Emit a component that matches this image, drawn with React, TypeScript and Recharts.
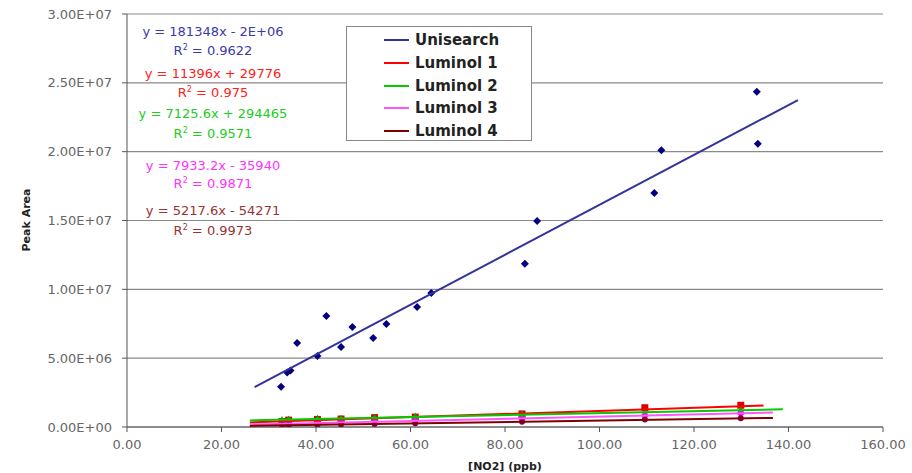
import React from "react";
import { ScatterChart, Scatter, XAxis, YAxis, CartesianGrid } from "recharts";

// Unisearch standard (peak area vs NO2 ppb)
const uniX = [32.6, 33.9, 34.6, 36.0, 40.3, 42.2, 45.3, 47.7, 52.1, 54.9, 61.4, 64.4, 84.2, 86.8, 111.6, 113.1, 133.3, 133.5];
const uniY = [2.93e6, 3.95e6, 4.1e6, 6.1e6, 5.16e6, 8.07e6, 5.81e6, 7.27e6, 6.47e6, 7.49e6, 8.72e6, 9.74e6, 11.85e6, 14.97e6, 17.0e6, 20.1e6, 24.35e6, 20.57e6];

// Luminol runs share the same concentrations
const lumX = [32.8, 34.2, 40.3, 45.3, 52.4, 61.0, 83.6, 109.6, 129.9];
const lum1Y = [0.4e6, 0.5e6, 0.55e6, 0.58e6, 0.68e6, 0.72e6, 0.95e6, 1.4e6, 1.58e6];
const lum2Y = [0.5e6, 0.55e6, 0.6e6, 0.6e6, 0.66e6, 0.76e6, 0.9e6, 1.02e6, 1.2e6];
const lum3Y = [0.22e6, 0.24e6, 0.27e6, 0.32e6, 0.38e6, 0.45e6, 0.6e6, 0.82e6, 0.98e6];
const lum4Y = [0.12e6, 0.12e6, 0.16e6, 0.18e6, 0.22e6, 0.27e6, 0.38e6, 0.54e6, 0.64e6];

const seriesNames = ["Unisearch", "Luminol 1", "Luminol 2", "Luminol 3", "Luminol 4"];
const lineColors = ["#333399", "#ff0000", "#00cc00", "#ff55ff", "#800000"];
const markerColors = ["#000080", "#dd0000", "#00aa00", "#ff00ff", "#800040"];

// linear trendlines as printed on the chart
const trendSlopes = [181348, 11396, 7125.6, 7933.2, 5217.6];
const trendIntercepts = [-2e6, 29776, 294465, -35940, -54271];
const trendFrom = [27, 26, 26, 26, 26];
const trendTo = [142, 134.7, 138.8, 136.7, 136.7];
const equationTexts = [
  "y = 181348x - 2E+06",
  "y = 11396x + 29776",
  "y = 7125.6x + 294465",
  "y = 7933.2x - 35940",
  "y = 5217.6x - 54271",
];
const r2Texts = ["0.9622", "0.975", "0.9571", "0.9871", "0.9973"];
const equationColors = ["#3a3aa8", "#ff2020", "#22cc22", "#ff33ff", "#993333"];

const xTicks = [0, 20, 40, 60, 80, 100, 120, 140, 160];
const yTicks = [0, 5e6, 10e6, 15e6, 20e6, 25e6, 30e6];

const FONT = "'DejaVu Sans', Verdana, sans-serif";

const sci = (v: number) => {
  if (v === 0) return "0.00E+00";
  const [m, e] = v.toExponential(2).split("e");
  const n = parseInt(e, 10);
  return `${m}E${n < 0 ? "-" : "+"}${String(Math.abs(n)).padStart(2, "0")}`;
};

const toPoints = (xs: number[], ys: number[]) => xs.map((x, i) => ({ x, y: ys[i] }));

const trendData = (i: number) => [
  { x: trendFrom[i], y: trendSlopes[i] * trendFrom[i] + trendIntercepts[i] },
  { x: trendTo[i], y: trendSlopes[i] * trendTo[i] + trendIntercepts[i] },
];

const Diamond = (props: any) => {
  const { cx, cy, fill } = props;
  const r = 4;
  return <polygon points={`${cx},${cy - r} ${cx + r},${cy} ${cx},${cy + r} ${cx - r},${cy}`} fill={fill} />;
};
const Square = (props: any) => {
  const { cx, cy, fill } = props;
  return <rect x={cx - 3.5} y={cy - 3.5} width={7} height={7} fill={fill} />;
};
const Triangle = (props: any) => {
  const { cx, cy, fill } = props;
  return <polygon points={`${cx},${cy - 4} ${cx + 4},${cy + 3} ${cx - 4},${cy + 3}`} fill={fill} />;
};
const Dot = (props: any) => {
  const { cx, cy, fill } = props;
  return <circle cx={cx} cy={cy} r={3} fill={fill} />;
};
const NoShape = () => <g />;

const lumSeries = [lum1Y, lum2Y, lum3Y, lum4Y];
const lumShapes = [Square, Triangle, Diamond, Dot];

function Equations() {
  const rows = [
    [31, 50],
    [73, 92],
    [113, 133],
    [165, 183],
    [210, 230],
  ];
  return (
    <svg width={912} height={473} style={{ position: "absolute", left: 0, top: 0, pointerEvents: "none" }}>
      {equationTexts.map((t, i) => (
        <g key={t} fill={equationColors[i]} fontFamily={FONT} fontSize={13} textAnchor="middle">
          <text x={213} y={rows[i][0] + 4.5}>{t}</text>
          <text x={213} y={rows[i][1] + 4.5}>
            R<tspan fontSize={8} dy={-5}>2</tspan>
            <tspan dy={5}> = {r2Texts[i]}</tspan>
          </text>
        </g>
      ))}
      <text
        x={26}
        y={220}
        transform="rotate(-90 26 220)"
        textAnchor="middle"
        dominantBaseline="central"
        fontFamily={FONT}
        fontSize={11}
        fontWeight="bold"
        fill="#222"
      >
        Peak Area
      </text>
      <text x={505} y={470} textAnchor="middle" fontFamily={FONT} fontSize={11} fontWeight="bold" fill="#222">
        [NO2] (ppb)
      </text>
    </svg>
  );
}

function LegendBox() {
  return (
    <div
      style={{
        position: "absolute",
        left: 346,
        top: 26,
        width: 186,
        height: 115,
        background: "#fff",
        border: "1px solid #888",
        boxSizing: "border-box",
        fontFamily: FONT,
        fontSize: 15,
        fontWeight: "bold",
        color: "#222",
        paddingTop: 2,
      }}
    >
      {seriesNames.map((n, i) => (
        <div key={n} style={{ display: "flex", alignItems: "center", height: 22.7 }}>
          <span style={{ display: "inline-block", width: 25, height: 2, background: lineColors[i], marginLeft: 37, marginRight: 6 }} />
          <span>{n}</span>
        </div>
      ))}
    </div>
  );
}

export default function App() {
  return (
    <div style={{ position: "absolute", left: 0, top: 0, width: 912, height: 473, background: "#fff" }}>
      <ScatterChart width={912} height={473} margin={{ top: 14, right: 29, bottom: 0, left: 0 }}>
        <CartesianGrid vertical={false} stroke="#8a8a8a" strokeWidth={1.2} />
        <XAxis
          type="number"
          dataKey="x"
          domain={[0, 160]}
          ticks={xTicks}
          tickFormatter={(v: number) => v.toFixed(2)}
          height={46}
          stroke="#555"
          tickSize={5}
          tickMargin={8}
          tick={{ fill: "#666", fontSize: 13, fontFamily: FONT }}
          allowDataOverflow
        />
        <YAxis
          type="number"
          dataKey="y"
          domain={[0, 3e7]}
          ticks={yTicks}
          tickFormatter={sci}
          width={127}
          stroke="#555"
          tickSize={5}
          tickMargin={10}
          tick={{ fill: "#666", fontSize: 13, fontFamily: FONT }}
          allowDataOverflow
        />
        {lumSeries.map((ys, k) => (
          <Scatter
            key={seriesNames[k + 1]}
            name={seriesNames[k + 1]}
            data={toPoints(lumX, ys)}
            fill={markerColors[k + 1]}
            shape={lumShapes[k]}
            isAnimationActive={false}
          />
        ))}
        {lumSeries.map((_, k) => (
          <Scatter
            key={"trend" + k}
            data={trendData(k + 1)}
            line={{ stroke: lineColors[k + 1], strokeWidth: 2 }}
            shape={NoShape}
            legendType="none"
            isAnimationActive={false}
          />
        ))}
        <Scatter
          name={seriesNames[0]}
          data={toPoints(uniX, uniY)}
          fill={markerColors[0]}
          shape={Diamond}
          isAnimationActive={false}
        />
        <Scatter
          data={trendData(0)}
          line={{ stroke: lineColors[0], strokeWidth: 2 }}
          shape={NoShape}
          legendType="none"
          isAnimationActive={false}
        />
      </ScatterChart>
      <Equations />
      <LegendBox />
    </div>
  );
}
